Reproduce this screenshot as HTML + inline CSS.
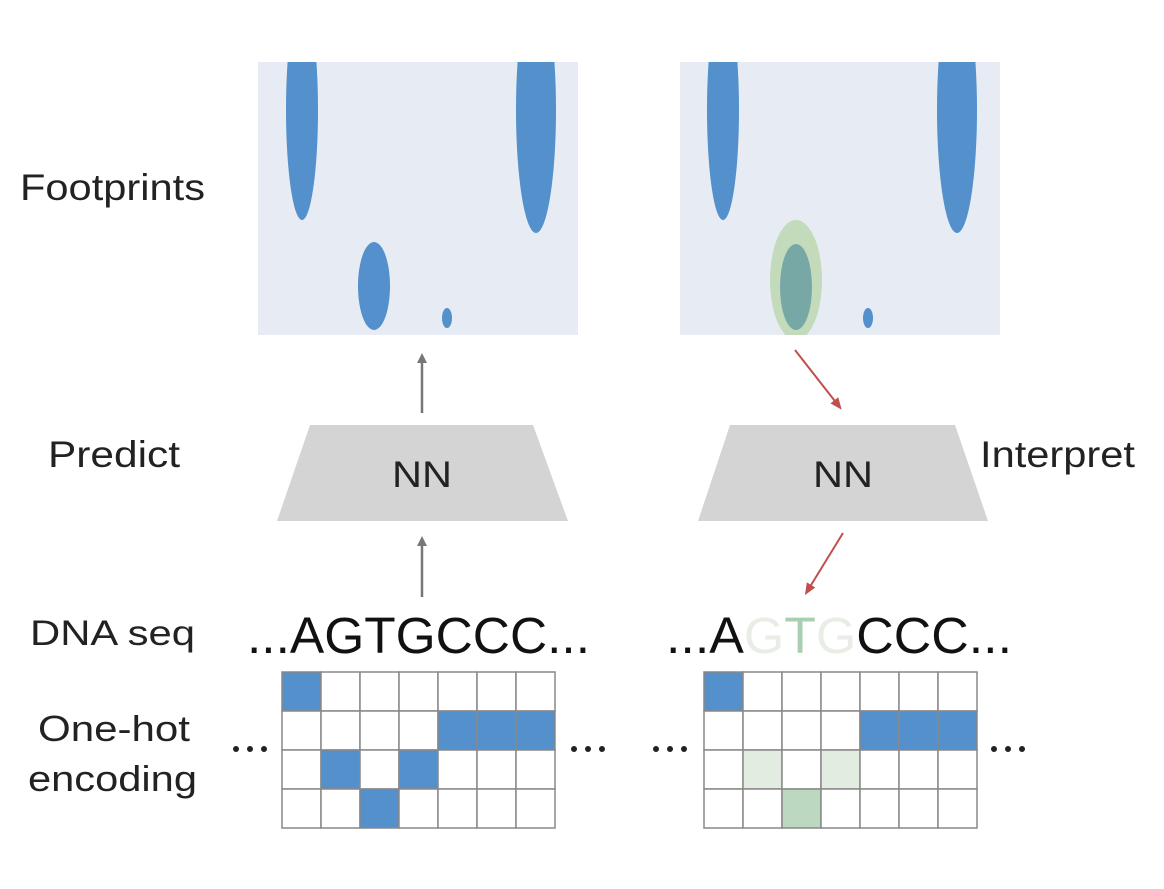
<!DOCTYPE html>
<html><head><meta charset="utf-8"><style>
html,body{margin:0;padding:0;background:#fff;}
svg{display:block;font-family:"Liberation Sans",Arial,sans-serif;}
</style></head><body>
<svg width="1164" height="889" viewBox="0 0 1164 889">
<defs>
<clipPath id="cl"><rect x="258" y="62" width="320" height="273"/></clipPath>
<clipPath id="cr"><rect x="680" y="62" width="320" height="273"/></clipPath>
<marker id="ag" markerWidth="10" markerHeight="10" refX="5" refY="5" orient="auto" markerUnits="userSpaceOnUse"><path d="M0,0 L10,5 L0,10 z" fill="#777"/></marker>
<marker id="ar" markerWidth="12" markerHeight="10" refX="6" refY="5" orient="auto" markerUnits="userSpaceOnUse"><path d="M0,0 L12,5 L0,10 z" fill="#c0504d"/></marker>
</defs>
<text x="20" y="200" font-size="37" textLength="185" lengthAdjust="spacingAndGlyphs" fill="#222">Footprints</text>
<text x="48" y="467" font-size="37" textLength="132" lengthAdjust="spacingAndGlyphs" fill="#222">Predict</text>
<text x="980" y="467" font-size="37" textLength="155" lengthAdjust="spacingAndGlyphs" fill="#222">Interpret</text>
<text x="30" y="645" font-size="35" textLength="165" lengthAdjust="spacingAndGlyphs" fill="#222">DNA seq</text>
<text x="38" y="741" font-size="36" textLength="152" lengthAdjust="spacingAndGlyphs" fill="#222">One-hot</text>
<text x="28" y="791" font-size="36" textLength="169" lengthAdjust="spacingAndGlyphs" fill="#222">encoding</text>

<g>
<rect x="258" y="62" width="320" height="273" fill="#e7ecf4"/>
<g clip-path="url(#cl)" fill="#5490cb">
<ellipse cx="302" cy="110" rx="16" ry="110"/>
<ellipse cx="536" cy="110" rx="20" ry="123"/>
<ellipse cx="374" cy="286" rx="16" ry="44"/>
<ellipse cx="447" cy="318" rx="5" ry="10"/>
</g></g>
<g>
<rect x="680" y="62" width="320" height="273" fill="#e7ecf4"/>
<g clip-path="url(#cr)">
<ellipse cx="723" cy="110" rx="16" ry="110" fill="#5490cb"/>
<ellipse cx="957" cy="110" rx="20" ry="123" fill="#5490cb"/>
<ellipse cx="796" cy="280" rx="26" ry="60" fill="#c3dbbb"/>
<ellipse cx="796" cy="287" rx="16" ry="43" fill="#78a8a6"/>
<ellipse cx="868" cy="318" rx="5" ry="10" fill="#5490cb"/>
</g></g>

<line x1="422" y1="413" x2="422" y2="358" stroke="#777" stroke-width="2.5" marker-end="url(#ag)"/>
<line x1="422" y1="597" x2="422" y2="541" stroke="#777" stroke-width="2.5" marker-end="url(#ag)"/>
<line x1="795" y1="350" x2="838" y2="405" stroke="#c0504d" stroke-width="2" marker-end="url(#ar)"/>
<line x1="843" y1="533" x2="808" y2="590" stroke="#c0504d" stroke-width="2" marker-end="url(#ar)"/>

<g>
<polygon points="310,425 533,425 568,521 277,521" fill="#d4d4d4"/>
<text x="392" y="487" font-size="37" textLength="60" lengthAdjust="spacingAndGlyphs" fill="#222">NN</text></g>
<g>
<polygon points="730,425 955,425 988,521 698,521" fill="#d4d4d4"/>
<text x="813" y="487" font-size="37" textLength="60" lengthAdjust="spacingAndGlyphs" fill="#222">NN</text></g>

<text x="247" y="653" font-size="51" textLength="343" lengthAdjust="spacingAndGlyphs" fill="#111">...AGTGCCC...</text>
<text x="666" y="653" font-size="51" textLength="346" lengthAdjust="spacingAndGlyphs" fill="#111">...A<tspan fill="#e8eee6">G</tspan><tspan fill="#a9cfb0">T</tspan><tspan fill="#e8eee6">G</tspan>CCC...</text>

<g id="gl"></g>
<g id="gr"></g>
<g fill="#222">
<circle cx="236" cy="749" r="3"/><circle cx="250" cy="749" r="3"/><circle cx="264" cy="749" r="3"/>
<circle cx="574" cy="749" r="3"/><circle cx="588" cy="749" r="3"/><circle cx="602" cy="749" r="3"/>
<circle cx="656" cy="749" r="3"/><circle cx="670" cy="749" r="3"/><circle cx="684" cy="749" r="3"/>
<circle cx="994" cy="749" r="3"/><circle cx="1008" cy="749" r="3"/><circle cx="1022" cy="749" r="3"/>
</g>
</svg>
<script>
const seqRows=[0,2,3,2,1,1,1];
const rightColors=["#5490cb","#e3ece0","#bcd8c0","#e3ece0","#5490cb","#5490cb","#5490cb"];
function grid(id,x0,cols){
  const g=document.getElementById(id);
  const cw=39,ch=39,y0=672;
  for(let c=0;c<7;c++)for(let r=0;r<4;r++){
    const el=document.createElementNS("http://www.w3.org/2000/svg","rect");
    
    
    el.setAttribute("x",x0+c*cw);el.setAttribute("y",y0+r*ch);
    el.setAttribute("width",cw);el.setAttribute("height",ch);
    el.setAttribute("fill",seqRows[c]===r?cols[c]:"#fff");
    el.setAttribute("stroke","#888");el.setAttribute("stroke-width","1.5");
    g.appendChild(el);
  }
}
grid("gl",282,Array(7).fill("#5490cb"));
grid("gr",704,rightColors);
</script>
</body></html>
